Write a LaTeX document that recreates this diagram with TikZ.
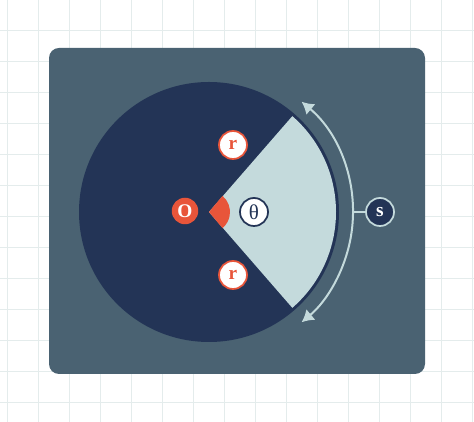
\documentclass[tikz,border=0pt]{standalone}
\usepackage{fontspec}
\setmainfont{Liberation Serif}
\usetikzlibrary{arrows.meta,calc}
\definecolor{panelblue}{HTML}{4A6272}
\definecolor{discnavy}{HTML}{233456}
\definecolor{paleblue}{HTML}{C4DADC}
\definecolor{tomato}{HTML}{E8553A}
\definecolor{gridgrey}{HTML}{E4ECEC}
\tikzstyle{vertex}=[circle,minimum size=0.56cm,inner sep=0pt,line width=0.035cm,font=\fontsize{11}{12}\selectfont\bfseries]
\tikzstyle{radius vertex} = [vertex, draw=tomato, fill=white, text=tomato]
\tikzstyle{origin vertex} = [vertex, fill=tomato, text=white, minimum size=0.53cm]
\tikzstyle{angle vertex} = [vertex, draw=discnavy, fill=white, text=discnavy, font=\fontsize{12}{13}\selectfont]
\tikzstyle{arc vertex} = [vertex, draw=paleblue, fill=discnavy, text=white]
\tikzstyle{edge} = [draw,paleblue,line width=0.04cm]

\begin{document}
\begin{tikzpicture}[x=0.02cm,y=0.02cm]
    \useasboundingbox (0,0) rectangle (474,422);
    % Grid paper and the panel
    \foreach \x in {7,38,...,472}
        \draw[gridgrey,line width=0.02cm] (\x,0) -- (\x,422);
    \foreach \y in {19,50,...,391}
        \draw[gridgrey,line width=0.02cm] (0,\y) -- (474,\y);
    \fill[panelblue,rounded corners=0.2cm] (49,48) rectangle (425,374);

    % The disc, the sector and the angle
    \coordinate (C) at (209,210);
    \fill[discnavy] (C) circle (130);
    \fill[paleblue] (C) -- ++(49:127) arc (49:-49:127) -- cycle;
    \fill[tomato] (C) -- ++(50:21) arc (50:-50:21) -- cycle;

    % First we draw the labels
    \foreach \pos/\name/\kind/\text in {{(233,277)/r1/radius/r}, {(233,147)/r2/radius/r}, {(185,211)/O/origin/O}, {(254,210)/theta/angle/θ}, {(380,210)/s/arc/s}}
        \node[\kind\space vertex] (\name) at \pos {\text};

    % Arc length arrow, tied to s
    \draw[edge,{Latex[length=0.24cm,width=0.28cm]}-{Latex[length=0.24cm,width=0.28cm]}] (C) ++(50:144) arc (50:-50:144);
    \coordinate (arcmid) at ($(C)+(0:144)$);
    \path[edge] (arcmid) -- (s);
\end{tikzpicture}
\end{document}
